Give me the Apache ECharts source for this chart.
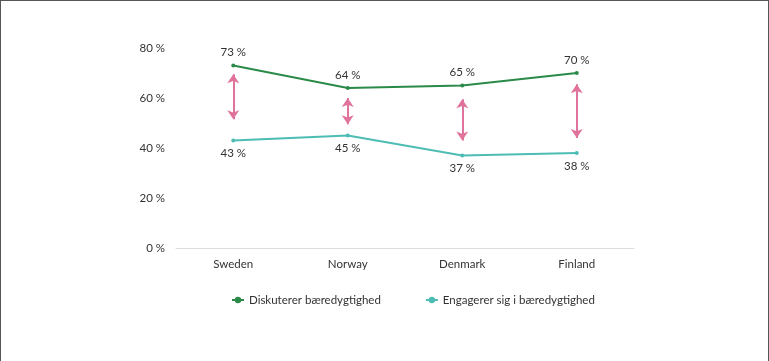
<!DOCTYPE html>
<html>
<head>
<meta charset="utf-8">
<script src="https://cdn.jsdelivr.net/npm/echarts@6/dist/echarts.min.js"></script>
<style>
  html, body { margin: 0; padding: 0; background: #fff; }
  #chart {
    width: 769px;
    height: 361px;
    box-sizing: border-box;
    border-top: 1px solid #555;
    border-left: 1px solid #555;
    border-right: 1px solid #555;
  }
</style>
</head>
<body>
<div id="chart"></div>
<script>
const countries = ['Sweden', 'Norway', 'Denmark', 'Finland']
const diskuterer = [73, 64, 65, 70]
const engagerer = [43, 45, 37, 38]
// arrow spans between the two lines (top, bottom), in %
const arrowTop = [69.5, 60, 59.5, 65.5]
const arrowBottom = [51.5, 49.5, 43, 44]
const yTicks = [0, 20, 40, 60, 80]

const green = '#2a8a47'
const teal = '#4dbdb4'
const pink = '#e0739c'
const font = 'Lato, "Open Sans", sans-serif'

let myChart = echarts.init(document.getElementById('chart'))

let arrows = countries.map(function (c, i) {
  return [{ coord: [c, arrowTop[i]] }, { coord: [c, arrowBottom[i]] }]
})

let option = {
  animation: false,
  textStyle: { fontFamily: font },
  grid: { left: 175, right: 134, top: 47, bottom: 113 },
  legend: {
    bottom: 50,
    left: 225,
    itemGap: 44,
    itemWidth: 12,
    itemHeight: 8,
    textStyle: { fontFamily: font, fontSize: 11.5, color: '#333' },
    data: ['Diskuterer bæredygtighed', 'Engagerer sig i bæredygtighed']
  },
  xAxis: {
    type: 'category',
    data: countries,
    boundaryGap: true,
    axisLine: { lineStyle: { color: '#ddd' } },
    axisTick: { show: false },
    axisLabel: { color: '#333', fontSize: 11.5, margin: 10, fontFamily: font }
  },
  yAxis: {
    type: 'value',
    min: yTicks[0],
    max: yTicks[yTicks.length - 1],
    interval: 20,
    splitLine: { show: false },
    axisLine: { show: false },
    axisTick: { show: false },
    axisLabel: {
      color: '#333',
      fontSize: 11.5,
      margin: 11,
      fontFamily: font,
      formatter: '{value} %'
    }
  },
  series: [
    {
      name: 'Diskuterer bæredygtighed',
      type: 'line',
      data: diskuterer,
      color: green,
      symbol: 'circle',
      symbolSize: 4,
      lineStyle: { width: 1.8, color: green },
      label: {
        show: true,
        position: 'top',
        distance: 5,
        color: '#333',
        fontSize: 11.5,
        fontFamily: font,
        formatter: '{c} %'
      },
      markLine: {
        silent: true,
        symbol: ['arrow', 'arrow'],
        symbolSize: [9, 9],
        label: { show: false },
        lineStyle: { color: pink, width: 2, type: 'solid' },
        data: arrows
      }
    },
    {
      name: 'Engagerer sig i bæredygtighed',
      type: 'line',
      data: engagerer,
      color: teal,
      symbol: 'circle',
      symbolSize: 4,
      lineStyle: { width: 1.8, color: teal },
      label: {
        show: true,
        position: 'bottom',
        distance: 5,
        color: '#333',
        fontSize: 11.5,
        fontFamily: font,
        formatter: '{c} %'
      }
    }
  ]
}

myChart.setOption(option)
</script>
</body>
</html>
